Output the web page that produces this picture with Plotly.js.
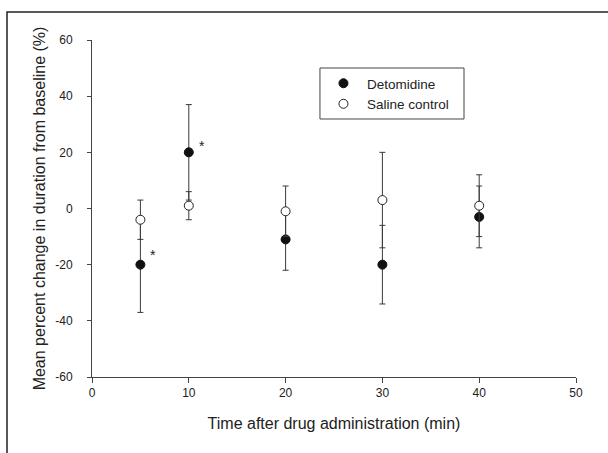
<!DOCTYPE html>
<html>
<head>
<meta charset="utf-8">
<script src="https://cdn.plot.ly/plotly-3.0.1.min.js"></script>
<style>html,body{margin:0;padding:0;background:#fff;}#chart{width:608px;height:453px;}</style>
</head>
<body>
<div id="chart"></div>
<script>
const times = [5, 10, 20, 30, 40];
const detomidineMean = [-20, 20, -11, -20, -3];
const detomidineErr = [17, 17, 11, 14, 11];
const salineMean = [-4, 1, -1, 3, 1];
const salineErr = [7, 5, 9, 17, 11];
const xTicks = [0, 10, 20, 30, 40, 50];
const yTicks = [-60, -40, -20, 0, 20, 40, 60];
const yTickText = ["-60", "-40", "-20", "0", "20", "40", "60"];
const starX = [6.3, 11.4];
const starY = [-16.7, 22.3];

const font = "Liberation Sans, Arial, sans-serif";
const errStyle = {type: "data", symmetric: true, color: "#3a3a3a", thickness: 1, width: 3};

const traces = [
  {
    x: times, y: detomidineMean, name: "Detomidine", mode: "markers", type: "scatter",
    marker: {color: "#111", size: 9, line: {color: "#111", width: 1}},
    error_y: Object.assign({array: detomidineErr}, errStyle)
  },
  {
    x: times, y: salineMean, name: "Saline control", mode: "markers", type: "scatter",
    marker: {color: "#fff", size: 9, line: {color: "#222", width: 1}},
    error_y: Object.assign({array: salineErr}, errStyle)
  }
];

const annotations = starX.map((x, i) => ({
  x: x, y: starY[i], xref: "x", yref: "y", text: "*", showarrow: false,
  font: {family: font, size: 14, color: "#222"}
}));

const layout = {
  width: 608, height: 453,
  margin: {l: 92, r: 32, t: 40, b: 76},
  paper_bgcolor: "#fff", plot_bgcolor: "#fff",
  font: {family: font, color: "#222"},
  showlegend: true,
  legend: {
    x: 0.471, y: 0.917, xanchor: "left", yanchor: "top",
    borderwidth: 0, bgcolor: "rgba(0,0,0,0)",
    itemwidth: 37,
    font: {family: font, size: 13.5, color: "#222"},
    tracegroupgap: 0
  },
  xaxis: {
    range: [0, 50], tickvals: xTicks, showgrid: false, zeroline: false,
    showline: true, linecolor: "#444", linewidth: 1,
    ticks: "outside", ticklen: 5, tickcolor: "#444",
    tickfont: {family: font, size: 12, color: "#222"},
    title: {text: "Time after drug administration (min)", font: {family: font, size: 16, color: "#222"}, standoff: 18}
  },
  yaxis: {
    range: [-60, 60], tickvals: yTicks, ticktext: yTickText, showgrid: false, zeroline: false,
    showline: true, linecolor: "#444", linewidth: 1,
    ticks: "outside", ticklen: 4, tickcolor: "#444",
    ticklabelstandoff: 12,
    tickfont: {family: font, size: 12, color: "#222"},
    title: {text: "Mean percent change in duration from baseline (%)", font: {family: font, size: 16, color: "#222"}, standoff: 5}
  },
  annotations: annotations,
  shapes: [
    {
      type: "rect", xref: "paper", yref: "paper",
      x0: -0.1756, x1: 1.2, y0: -0.5, y1: 1.083,
      line: {color: "#222", width: 1.5}
    },
    {
      type: "rect", xref: "paper", yref: "paper",
      x0: 0.471, x1: 0.7686, y0: 0.7656, y1: 0.9169,
      line: {color: "#444", width: 1}, fillcolor: "#fff", layer: "above"
    }
  ]
};

Plotly.newPlot("chart", traces, layout, {staticPlot: true});
</script>
</body>
</html>
